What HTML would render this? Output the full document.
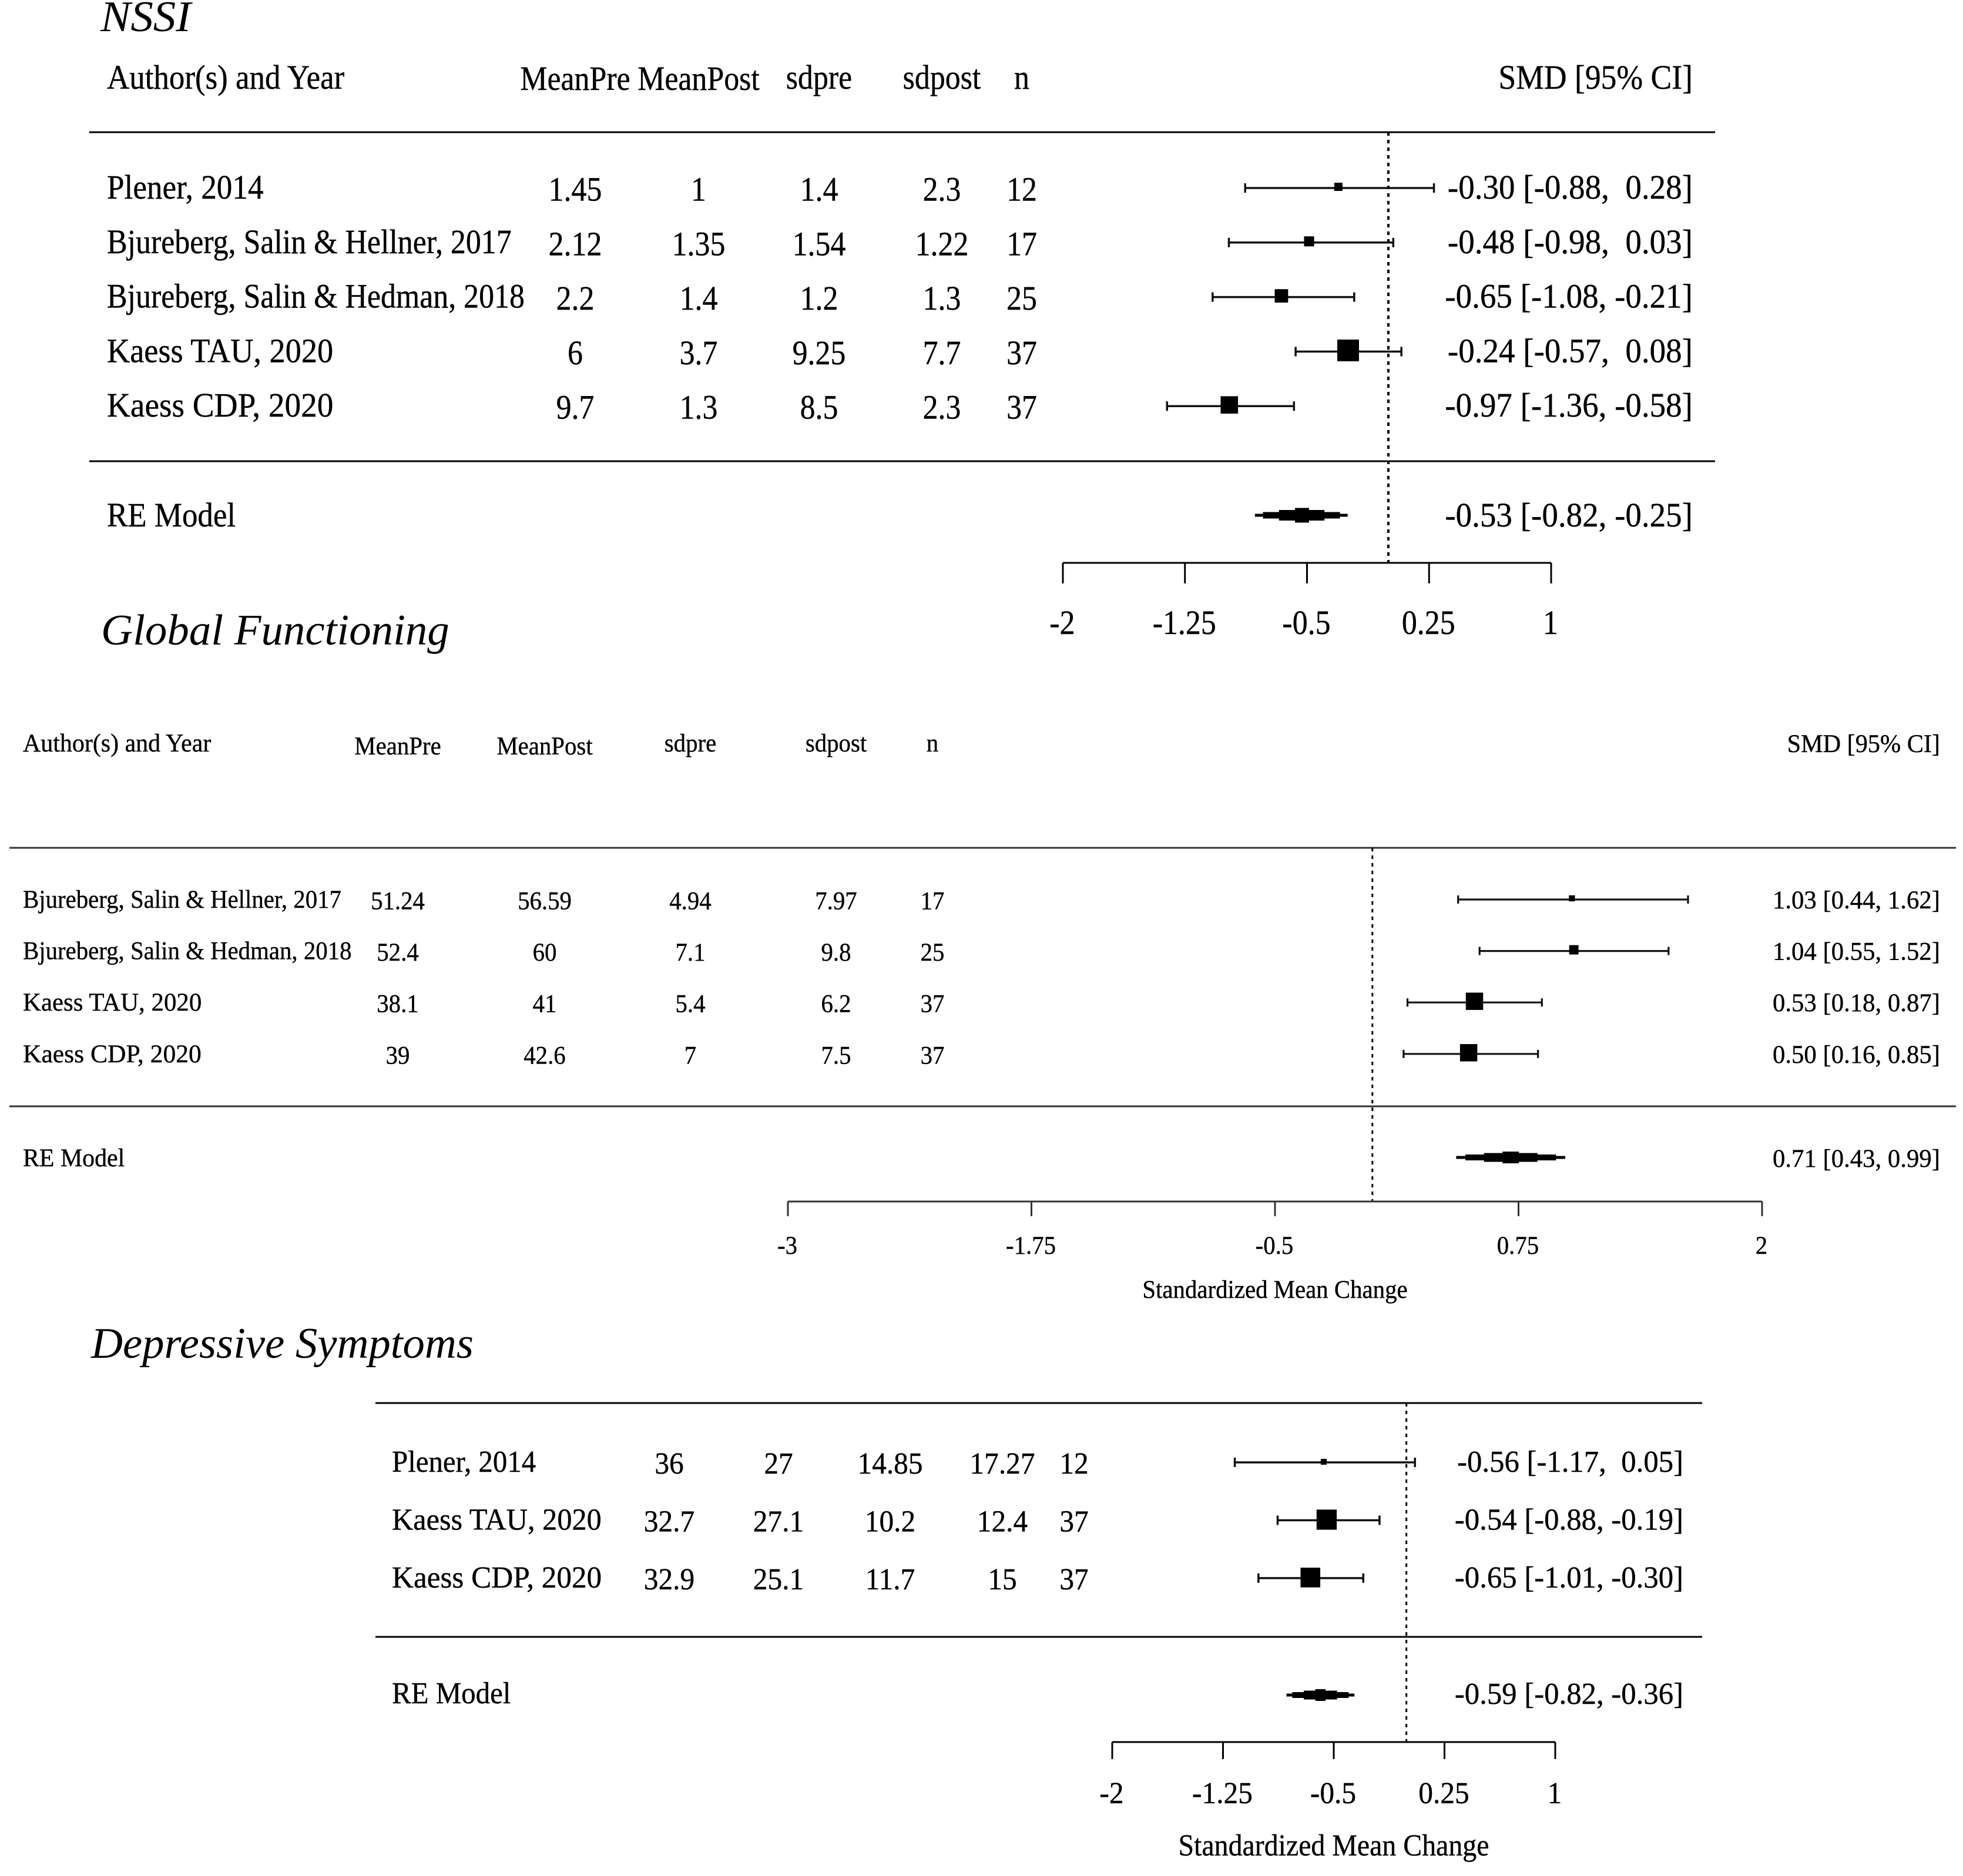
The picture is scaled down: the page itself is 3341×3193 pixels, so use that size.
<!DOCTYPE html>
<html lang="en">
<head>
<meta charset="utf-8">
<title>Forest plots: NSSI, Global Functioning, Depressive Symptoms</title>
<style>
html,body{margin:0;padding:0;background:#fff;}
svg{display:block;}
text{font-family:"Liberation Serif",serif;fill:#000;stroke:#000;stroke-width:0.4px;white-space:pre;}
.ttl{font-style:italic;font-size:74px;stroke-width:0;}
</style>
</head>
<body>
<svg id="chart" xmlns="http://www.w3.org/2000/svg" width="3341" height="3193" viewBox="0 0 3341 3193">
<rect x="0" y="0" width="3341" height="3193" fill="#fff"/>
<text class="ttl" transform="translate(171,53) scale(1.04,1)" x="0" y="0">NSSI</text>
<text class="ttl" transform="translate(172,1097) scale(1.012,1)" x="0" y="0">Global Functioning</text>
<text class="ttl" transform="translate(155,2311) scale(1.01,1)" x="0" y="0">Depressive Symptoms</text>
</svg>
<script>
// NSSI panel
const nssiStudies = ['Plener, 2014', 'Bjureberg, Salin & Hellner, 2017', 'Bjureberg, Salin & Hedman, 2018', 'Kaess TAU, 2020', 'Kaess CDP, 2020'];
const nssiMeanPre = ['1.45', '2.12', '2.2', '6', '9.7'];
const nssiMeanPost = ['1', '1.35', '1.4', '3.7', '1.3'];
const nssiSdPre = ['1.4', '1.54', '1.2', '9.25', '8.5'];
const nssiSdPost = ['2.3', '1.22', '1.3', '7.7', '2.3'];
const nssiN = ['12', '17', '25', '37', '37'];
const nssiEst = [-0.30, -0.48, -0.65, -0.24, -0.97];
const nssiLo = [-0.88, -0.98, -1.08, -0.57, -1.36];
const nssiHi = [0.28, 0.03, -0.21, 0.08, -0.58];
const nssiWeights = [6, 9, 16, 42, 27];
const nssiSummary = [-0.53, -0.82, -0.25];
const nssiTicks = [-2, -1.25, -0.5, 0.25, 1];

// Global Functioning panel
const globalStudies = ['Bjureberg, Salin & Hellner, 2017', 'Bjureberg, Salin & Hedman, 2018', 'Kaess TAU, 2020', 'Kaess CDP, 2020'];
const globalMeanPre = ['51.24', '52.4', '38.1', '39'];
const globalMeanPost = ['56.59', '60', '41', '42.6'];
const globalSdPre = ['4.94', '7.1', '5.4', '7'];
const globalSdPost = ['7.97', '9.8', '6.2', '7.5'];
const globalN = ['17', '25', '37', '37'];
const globalEst = [1.03, 1.04, 0.53, 0.50];
const globalLo = [0.44, 0.55, 0.18, 0.16];
const globalHi = [1.62, 1.52, 0.87, 0.85];
const globalWeights = [5, 12, 41, 41];
const globalSummary = [0.71, 0.43, 0.99];
const globalTicks = [-3, -1.75, -0.5, 0.75, 2];

// Depressive Symptoms panel
const depStudies = ['Plener, 2014', 'Kaess TAU, 2020', 'Kaess CDP, 2020'];
const depMeanPre = ['36', '32.7', '32.9'];
const depMeanPost = ['27', '27.1', '25.1'];
const depSdPre = ['14.85', '10.2', '11.7'];
const depSdPost = ['17.27', '12.4', '15'];
const depN = ['12', '37', '37'];
const depEst = [-0.56, -0.54, -0.65];
const depLo = [-1.17, -0.88, -1.01];
const depHi = [0.05, -0.19, -0.30];
const depWeights = [4, 47, 45];
const depSummary = [-0.59, -0.82, -0.36];
const depTicks = [-2, -1.25, -0.5, 0.25, 1];

const svgNS = 'http://www.w3.org/2000/svg';
const chart = document.getElementById('chart');

function addLine(name, x1, y1, x2, y2, width, color, dash) {
  const el = document.createElementNS(svgNS, 'line');
  
  
  el.setAttribute('x1', x1);
  el.setAttribute('y1', y1);
  el.setAttribute('x2', x2);
  el.setAttribute('y2', y2);
  el.setAttribute('stroke', color);
  el.setAttribute('stroke-width', width);
  if (dash) el.setAttribute('stroke-dasharray', dash);
  chart.appendChild(el);
}

function addRect(name, x, y, w, h) {
  const el = document.createElementNS(svgNS, 'rect');
  
  
  el.setAttribute('x', x);
  el.setAttribute('y', y);
  el.setAttribute('width', w);
  el.setAttribute('height', h);
  el.setAttribute('fill', '#000');
  chart.appendChild(el);
}

function addText(name, str, x, y, anchor, size, sx) {
  const el = document.createElementNS(svgNS, 'text');
  
  
  el.setAttribute('transform', 'translate(' + x + ',' + y + ') scale(' + sx + ',1)');
  el.setAttribute('text-anchor', anchor);
  el.setAttribute('font-size', size);
  el.textContent = str;
  chart.appendChild(el);
}

function ciLabels(est, lo, hi) {
  const f = function (v) { return v.toFixed(2); };
  const wE = Math.max.apply(null, est.map(function (v) { return f(v).length; }));
  const wL = Math.max.apply(null, lo.map(function (v) { return f(v).length; }));
  const wH = Math.max.apply(null, hi.map(function (v) { return f(v).length; }));
  return est.map(function (v, i) {
    return f(v).padStart(wE) + ' [' + f(lo[i]).padStart(wL) + ', ' + f(hi[i]).padStart(wH) + ']';
  });
}

function drawPanel(p) {
  const xScale = function (v) {
    return p.axisLeft + (v - p.ticks[0]) * (p.axisRight - p.axisLeft) / (p.ticks[p.ticks.length - 1] - p.ticks[0]);
  };
  const yRow = function (i) { return p.rowTop + i * p.rowStep; };
  const fit = function (s) { return p.sx * (p.fit[s] || 1); };
  const pre = p.key + '-';

  addLine(pre + 'top-rule', p.ruleLeft, p.ruleTop, p.ruleRight, p.ruleTop, p.lw, p.color);
  addLine(pre + 'bottom-rule', p.ruleLeft, p.ruleBottom, p.ruleRight, p.ruleBottom, p.lw, p.color);
  addLine(pre + 'zero-reference-line', xScale(0) + p.refDx, p.ruleTop, xScale(0) + p.refDx, p.axisY, p.refW, '#000', '6 7');

  // header
  if (p.headers) {
    addText(pre + 'header-study', 'Author(s) and Year', p.textLeft, p.hdrStudyY, 'start', p.fs, fit('Author(s) and Year'));
    p.headers.forEach(function (h, c) {
      addText(pre + 'header-' + h.toLowerCase(), h, p.cols[c], p.hdrY[c], 'middle', p.fs, p.sx);
    });
    addText(pre + 'header-smd', 'SMD [95% CI]', p.textRight, p.hdrCiY, 'end', p.fs, fit('SMD [95% CI]'));
  }

  const ci = ciLabels(p.est, p.lo, p.hi);
  p.studies.forEach(function (s, i) {
    const y = yRow(i);
    addText(pre + 'study-label-' + i, s, p.textLeft, y + p.labelDy, 'start', p.fs, fit(s));
    [p.meanPre, p.meanPost, p.sdPre, p.sdPost, p.n].forEach(function (col, c) {
      addText(pre + 'cell-' + i + '-' + c, col[i], p.cols[c], y + p.valueDy, 'middle', p.fs, p.sx);
    });
    addLine(pre + 'ci-line-' + i, xScale(p.lo[i]), y, xScale(p.hi[i]), y, p.ciW, '#111');
    addLine(pre + 'ci-cap-low-' + i, xScale(p.lo[i]), y - p.cap, xScale(p.lo[i]), y + p.cap, p.ciW, '#111');
    addLine(pre + 'ci-cap-high-' + i, xScale(p.hi[i]), y - p.cap, xScale(p.hi[i]), y + p.cap, p.ciW, '#111');
    const size = p.sizeK * Math.sqrt(p.weights[i]);
    addRect(pre + 'effect-marker-' + i, xScale(p.est[i]) - size / 2 - 2, y - size / 2 - p.markUp, size, size);
    addText(pre + 'ci-label-' + i, ci[i], p.textRight, y + p.ciDy, 'end', p.fs, p.sx * p.ciFit);
  });

  // summary polygon, stepped as in the low-resolution source
  const sEst = xScale(p.summary[0]);
  const sLo = xScale(p.summary[1]);
  const sHi = xScale(p.summary[2]);
  p.diamondSteps.forEach(function (st, k) {
    const a = sEst + (sLo - sEst) * st[0];
    const b = sEst + (sHi - sEst) * st[0];
    addRect(pre + 'summary-diamond-step-' + k, a, p.reY - st[1] / 2, b - a, st[1]);
  });
  addText(pre + 're-model-label', 'RE Model', p.textLeft, p.reLabelY, 'start', p.fs, fit('RE Model'));
  addText(pre + 're-model-ci', ciLabels([p.summary[0]], [p.summary[1]], [p.summary[2]])[0], p.textRight, p.reCiY, 'end', p.fs, p.sx * p.ciFit);

  // axis
  addLine(pre + 'x-axis', xScale(p.ticks[0]), p.axisY, xScale(p.ticks[p.ticks.length - 1]), p.axisY, p.lw, p.color);
  p.ticks.forEach(function (t, k) {
    addLine(pre + 'x-tick-' + k, xScale(t), p.axisY, xScale(t), p.tickEnd, p.lw, p.color);
    addText(pre + 'x-tick-label-' + k, String(t), xScale(t) - 1, p.tickLabelY, 'middle', p.fs, p.sx);
  });
  if (p.axisTitleY) {
    addText(pre + 'x-axis-title', 'Standardized Mean Change', xScale(-0.5), p.axisTitleY, 'middle', p.fs, p.sx * p.axisTitleFit);
  }
}

const steps1 = [[1, 5], [0.83, 11], [0.49, 18], [0.15, 25]];
const steps2 = [[1, 5], [0.83, 10], [0.49, 15], [0.15, 20]];
const columnHeaders = ['MeanPre', 'MeanPost', 'sdpre', 'sdpost', 'n'];

drawPanel({
  key: 'nssi', studies: nssiStudies, meanPre: nssiMeanPre, meanPost: nssiMeanPost, sdPre: nssiSdPre, sdPost: nssiSdPost, n: nssiN,
  est: nssiEst, lo: nssiLo, hi: nssiHi, weights: nssiWeights, summary: nssiSummary, ticks: nssiTicks,
  headers: columnHeaders, cols: [979, 1189, 1394, 1603, 1739], hdrStudyY: 151, hdrY: [153, 153, 151, 151, 151], hdrCiY: 151,
  axisLeft: 1809, axisRight: 2640, axisY: 958, tickEnd: 993, tickLabelY: 1079,
  ruleLeft: 152, ruleRight: 2919, ruleTop: 225, ruleBottom: 785,
  rowTop: 320, rowStep: 92.8, labelDy: 18, valueDy: 21.5, ciDy: 18, textLeft: 182, textRight: 2881,
  reY: 877, reLabelY: 896, reCiY: 896, fs: 58, sx: 0.895, lw: 3, ciW: 3.5, refW: 4, refDx: 0, color: '#000', cap: 8, sizeK: 5.7, markUp: 2, diamondSteps: steps1,
  ciFit: 1.06, axisTitleFit: 1,
  fit: { 'Plener, 2014': 1.024, 'Kaess TAU, 2020': 1.046, 'Kaess CDP, 2020': 1.065, 'RE Model': 1.02, 'Author(s) and Year': 1.02, 'SMD [95% CI]': 1.033 }
});

drawPanel({
  key: 'global', studies: globalStudies, meanPre: globalMeanPre, meanPost: globalMeanPost, sdPre: globalSdPre, sdPost: globalSdPost, n: globalN,
  est: globalEst, lo: globalLo, hi: globalHi, weights: globalWeights, summary: globalSummary, ticks: globalTicks,
  headers: columnHeaders, cols: [677, 927, 1175, 1423, 1587], hdrStudyY: 1279, hdrY: [1284, 1284, 1279, 1279, 1279], hdrCiY: 1280,
  axisLeft: 1341, axisRight: 2999, axisY: 2045, tickEnd: 2070, tickLabelY: 2134, axisTitleY: 2209,
  ruleLeft: 16, ruleRight: 3329, ruleTop: 1443, ruleBottom: 1883,
  rowTop: 1531, rowStep: 87.6, labelDy: 14, valueDy: 16.5, ciDy: 15, textLeft: 39, textRight: 3302,
  reY: 1970, reLabelY: 1985, reCiY: 1986, fs: 43, sx: 0.95, lw: 3, ciW: 3.2, refW: 3, refDx: 0, color: '#333', cap: 7, sizeK: 4.6, markUp: 2, diamondSteps: steps2,
  ciFit: 1.047, axisTitleFit: 1,
  fit: { 'Kaess TAU, 2020': 1.05, 'Kaess CDP, 2020': 1.067, 'RE Model': 1.025, 'Author(s) and Year': 1.027, 'SMD [95% CI]': 1.034 }
});

drawPanel({
  key: 'depressive', studies: depStudies, meanPre: depMeanPre, meanPost: depMeanPost, sdPre: depSdPre, sdPost: depSdPost, n: depN,
  est: depEst, lo: depLo, hi: depHi, weights: depWeights, summary: depSummary, ticks: depTicks,
  headers: null, cols: [1139, 1325, 1515, 1706, 1828],
  axisLeft: 1893, axisRight: 2647, axisY: 2965, tickEnd: 2994, tickLabelY: 3069, axisTitleY: 3158,
  ruleLeft: 639, ruleRight: 2897, ruleTop: 2388, ruleBottom: 2786,
  rowTop: 2489, rowStep: 98.5, labelDy: 16, valueDy: 19, ciDy: 16, textLeft: 667, textRight: 2865,
  reY: 2885, reLabelY: 2899, reCiY: 2900, fs: 52, sx: 0.95, lw: 3, ciW: 3.5, refW: 3, refDx: -2, color: '#000', cap: 8, sizeK: 5, markUp: 1, diamondSteps: steps2,
  ciFit: 1.028, axisTitleFit: 0.969,
  fit: { 'Plener, 2014': 0.99, 'Kaess TAU, 2020': 1.018, 'Kaess CDP, 2020': 1.037, 'RE Model': 0.99 }
});
</script>
</body>
</html>
